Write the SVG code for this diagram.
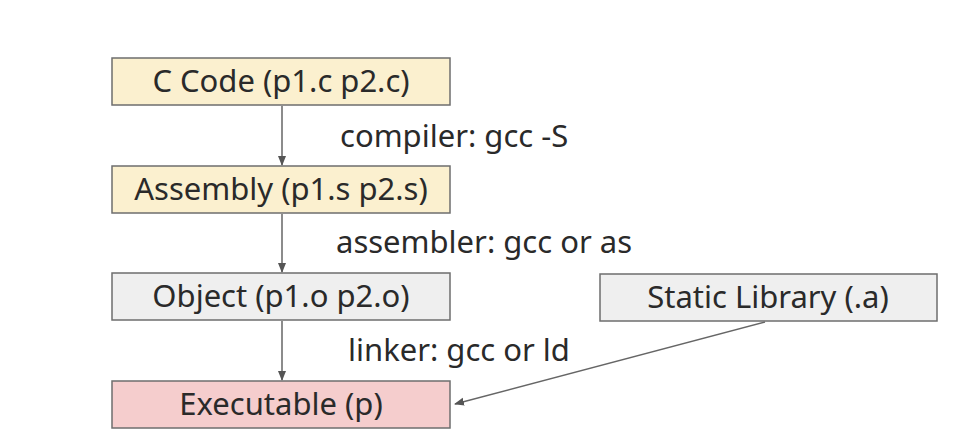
<svg xmlns="http://www.w3.org/2000/svg" width="977" height="437" viewBox="0 0 977 437">
<style>
.b{stroke:#6e6e6e;stroke-width:1.5}
.y{fill:#fbf0cf}.g{fill:#efefef}.r{fill:#f5cdcd}
text{font-family:"Noto Sans","Liberation Sans",sans-serif;font-size:31px;fill:#2a2a2a}
.c{text-anchor:middle}
.l{stroke:#666;stroke-width:1.5;fill:none;marker-end:url(#a)}
</style>
<defs><marker id="a" markerWidth="10" markerHeight="10" refX="9" refY="5" orient="auto" markerUnits="userSpaceOnUse"><path d="M0,1 L10,5 L0,9z" fill="#555"/></marker></defs>
<rect width="977" height="437" fill="#fff"/>
<g id="connectors">
<line class="l" x1="282" y1="106" x2="282" y2="165"/>
<line class="l" x1="282" y1="214" x2="282" y2="272"/>
<line class="l" x1="282" y1="321" x2="282" y2="380"/>
<line class="l" x1="765" y1="322" x2="455" y2="404"/>
<text x="340" y="147">compiler: gcc -S</text>
<text x="336" y="253">assembler: gcc or as</text>
<text x="348" y="361">linker: gcc or ld</text>
</g>
<g id="ccode"><rect class="b y" x="112" y="58" width="338" height="47"/><text class="c" x="281" y="92">C Code (p1.c p2.c)</text></g>
<g id="assembly"><rect class="b y" x="112" y="166" width="338" height="47"/><text class="c" x="281" y="200">Assembly (p1.s p2.s)</text></g>
<g id="object"><rect class="b g" x="112" y="273" width="338" height="47"/><text class="c" x="281" y="307">Object (p1.o p2.o)</text></g>
<g id="staticlib"><rect class="b g" x="600" y="274" width="337" height="47"/><text class="c" x="768" y="308">Static Library (.a)</text></g>
<g id="executable"><rect class="b r" x="112" y="381" width="338" height="47"/><text class="c" x="281" y="415">Executable (p)</text></g>
</svg>
